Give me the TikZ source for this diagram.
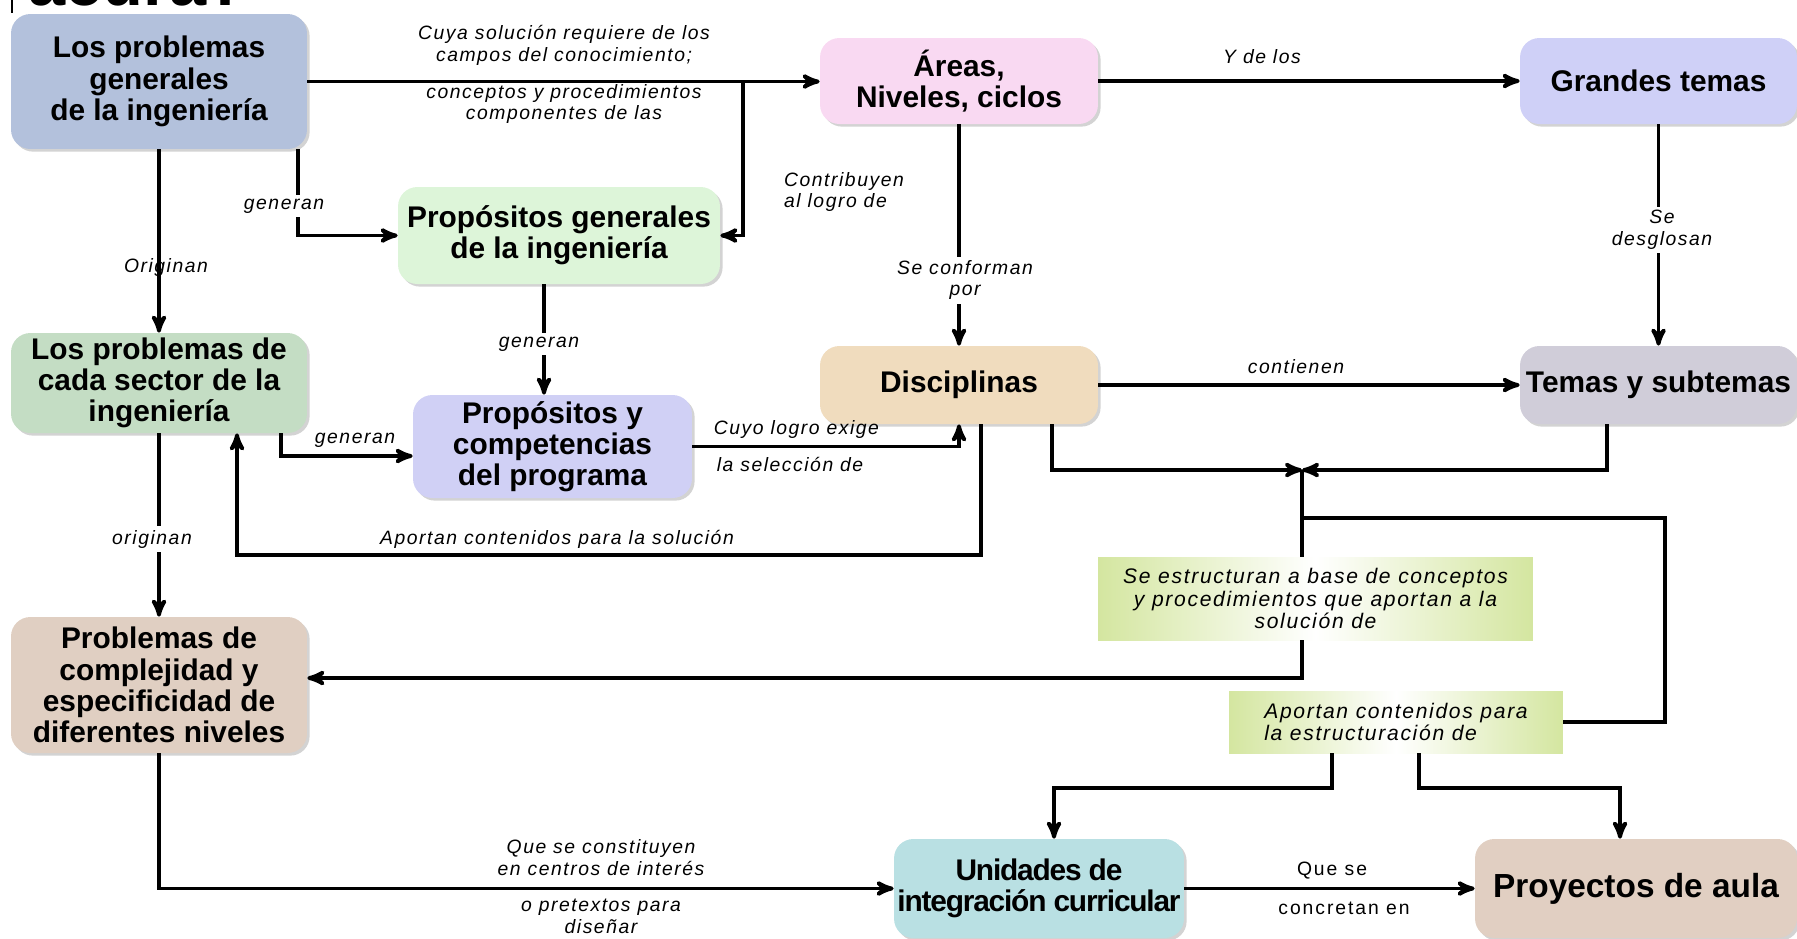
\documentclass[tikz,border=0pt]{standalone}
\usepackage{fontspec}
\setmainfont{Liberation Sans}
\usetikzlibrary{shadows}
\usetikzlibrary{arrows}
\usetikzlibrary{calc}

\definecolor{cgen}{HTML}{B3C1DC}
\definecolor{cpgen}{HTML}{DDF5D9}
\definecolor{careas}{HTML}{F9D9F2}
\definecolor{cgrandes}{HTML}{CFD0F7}
\definecolor{csector}{HTML}{C4DDC4}
\definecolor{cpcomp}{HTML}{D0D0F5}
\definecolor{cdisc}{HTML}{F0DCBE}
\definecolor{ctemas}{HTML}{D0CDD9}
\definecolor{ccompl}{HTML}{E0CFC2}
\definecolor{cunid}{HTML}{B9E0E3}
\definecolor{cproy}{HTML}{E1CFC2}
\definecolor{cverde}{HTML}{D4E6A0}

\begin{document}
\begin{tikzpicture}[x=0.02cm, y=-0.02cm,
    caja/.style={rounded corners=11pt, align=center, inner sep=2pt,
    font=\fontsize{17}{17.8}\selectfont\bfseries,
    drop shadow={shadow xshift=1.5pt, shadow yshift=-1.5pt, opacity=0.35}},
    verde/.style={left color=cverde, right color=cverde, middle color=white,
    inner sep=4pt, font=\fontsize{12}{13}\selectfont\itshape\addfontfeature{LetterSpace=8}},
    etiqueta/.style={align=center, inner sep=2pt,
    font=\fontsize{11}{12.5}\selectfont\itshape\addfontfeature{LetterSpace=8}},
    recta/.style={font=\fontsize{11}{12.5}\selectfont\upshape\addfontfeature{LetterSpace=10}},
    linea/.style={line width=2.2pt},
    flecha/.style={line width=2.2pt, ->, >=stealth'}]
    \useasboundingbox (0,0) rectangle (1797,938);

    % titulo cortado
    \begin{scope}
    \clip (0,0) rectangle (400,6);
    \node[anchor=base west, inner sep=0pt, font=\fontsize{38}{38}\selectfont\bfseries] (titulo) at (28,5) {acura?};
    \end{scope}
    \draw[line width=1pt] (12,0) -- (12,13);

    % cajas
    \node[caja, fill=cgen, minimum width=5.92cm, minimum height=2.7cm] (gen) at (159,81.5) {Los problemas\\generales\\de la ingeniería};
    \node[caja, fill=cpgen, minimum width=6.44cm, minimum height=1.94cm] (pgen) at (559,235.5) {Propósitos generales\\de la ingeniería};
    \node[caja, fill=careas, minimum width=5.56cm, minimum height=1.72cm] (areas) at (959,81) {Áreas,\\Niveles, ciclos};
    \node[caja, fill=cgrandes, minimum width=5.54cm, minimum height=1.72cm] (grandes) at (1658.5,81) {Grandes temas};
    \node[caja, fill=csector, minimum width=5.92cm, minimum height=2.0cm] (sector) at (159,383) {Los problemas de\\cada sector de la\\ingeniería};
    \node[caja, fill=cpcomp, minimum width=5.58cm, minimum height=2.06cm] (pcomp) at (552.5,446.5) {Propósitos y\\competencias\\del programa};
    \node[caja, fill=cdisc, minimum width=5.56cm, minimum height=1.56cm] (disc) at (959,385) {Disciplinas};
    \node[caja, fill=ctemas, minimum width=5.54cm, minimum height=1.56cm] (temas) at (1658.5,385) {Temas y subtemas};
    \node[caja, fill=ccompl, minimum width=5.92cm, minimum height=2.72cm] (compl) at (159,685) {Problemas de\\complejidad y\\especificidad de\\diferentes niveles};
    \node[caja, fill=cunid, minimum width=5.8cm, minimum height=1.98cm, inner sep=0pt,
      font=\fontsize{17}{17.8}\selectfont\bfseries\addfontfeature{LetterSpace=-4}] (unid) at (1039,888.5) {Unidades de\\integración curricular};
    \node[caja, fill=cproy, minimum width=6.44cm, minimum height=1.98cm, font=\fontsize{19}{20}\selectfont\bfseries] (proy) at (1636,888.5) {Proyectos de aula};
    \node[verde, minimum width=8.7cm, minimum height=1.66cm, align=center] (estr) at (1315.5,598.5) {Se estructuran a base de conceptos\\y procedimientos que aportan a la\\solución de};
    \node[verde, minimum width=6.68cm, minimum height=1.24cm, align=left] (aport) at (1396,722) {Aportan contenidos para\\la estructuración de};

    \coordinate (a) at (743,80);
    \coordinate (b) at (298,150);
    \coordinate (d) at (544,300);
    \coordinate (e) at (281,456);
    \coordinate (f1) at (981,555);
    \coordinate (f2) at (237,555);
    \coordinate (g) at (1052,470);
    \coordinate (h) at (1607,470);
    \coordinate (j) at (1302,470);
    \coordinate (k) at (1302,518);
    \coordinate (l) at (1665,518);
    \coordinate (m) at (1302,678);
    \coordinate (n1) at (1332,788);
    \coordinate (n2) at (1054,788);
    \coordinate (o1) at (1419,788);
    \coordinate (o2) at (1620,788);

    % conectores
    \draw[flecha] (gen.east) -- (gen.east -| areas.west);
    \draw[flecha] (a) |- (pgen.east);
    \draw[flecha] (gen.south -| b) |- (pgen.west);
    \draw[flecha] (gen.south) -- (sector.north);
    \draw[flecha] (areas.east) -- (grandes.west);
    \draw[flecha] (areas.south) -- (disc.north);
    \draw[flecha] (grandes.south) -- (temas.north);
    \draw[flecha] (pgen.south -| d) -- (pcomp.north -| d);
    \draw[flecha] (sector.south -| e) -- (e) -- (pcomp.west |- e);
    \draw[flecha] (pcomp.east) -| (disc.south);
    \draw[flecha] (disc.south -| f1) -- (f1) -- (f2) -- (sector.south -| f2);
    \draw[flecha] (sector.south) -- (compl.north);
    \draw[flecha] (disc.east) -- (temas.west);
    \draw[flecha] (disc.south -| g) -- (g) -- (j);
    \draw[flecha] (temas.south -| h) -- (h) -- (j);
    \draw[linea] (j) -- (estr.north -| j);
    \draw[linea] (k) -- (l) |- (aport.east);
    \draw[flecha] (estr.south -| m) -- (m) -- (compl.east |- m);
    \draw[flecha] (aport.south -| n1) -- (n1) -- (n2) -- (unid.north -| n2);
    \draw[flecha] (aport.south -| o1) -- (o1) -- (o2) -- (proy.north -| o2);
    \draw[flecha] (compl.south) |- (unid.west);
    \draw[flecha] (unid.east) -- (proy.west);

    % etiquetas
    \node[etiqueta] (t1) at (564,45) {Cuya solución requiere de los\\campos del conocimiento;};
    \node[etiqueta] (t2) at (564,104) {conceptos y procedimientos\\componentes de las};
    \node[etiqueta, align=left] (t3) at (844,192) {Contribuyen\\al logro de};
    \node[etiqueta] (t4) at (1262,57) {Y de los};
    \node[etiqueta, fill=white] (t5) at (284,206) {generan};
    \node[etiqueta] (t6) at (166,267) {Originan};
    \node[etiqueta, fill=white] (t7) at (965,280) {Se conforman\\por};
    \node[etiqueta, fill=white] (t8) at (1662,230) {Se\\desglosan};
    \node[etiqueta, fill=white] (t9) at (539,344) {generan};
    \node[etiqueta] (t10) at (355,440) {generan};
    \node[etiqueta, anchor=west] (t11) at (710,429) {Cuyo logro exige};
    \node[etiqueta, anchor=west] (t12) at (713,464) {la selección de};
    \node[etiqueta] (t13) at (557,539) {Aportan contenidos para la solución};
    \node[etiqueta, fill=white] (t14) at (152,539) {originan};
    \node[etiqueta] (t15) at (1296,367) {contienen};
    \node[etiqueta] (t16) at (601,858) {Que se constituyen\\en centros de interés};
    \node[etiqueta] (t17) at (601,916) {o pretextos para\\diseñar};
    \node[etiqueta, recta] (t18) at (1332,871) {Que se};
    \node[etiqueta, recta] (t19) at (1344,908) {concretan en};

\end{tikzpicture}
\end{document}
